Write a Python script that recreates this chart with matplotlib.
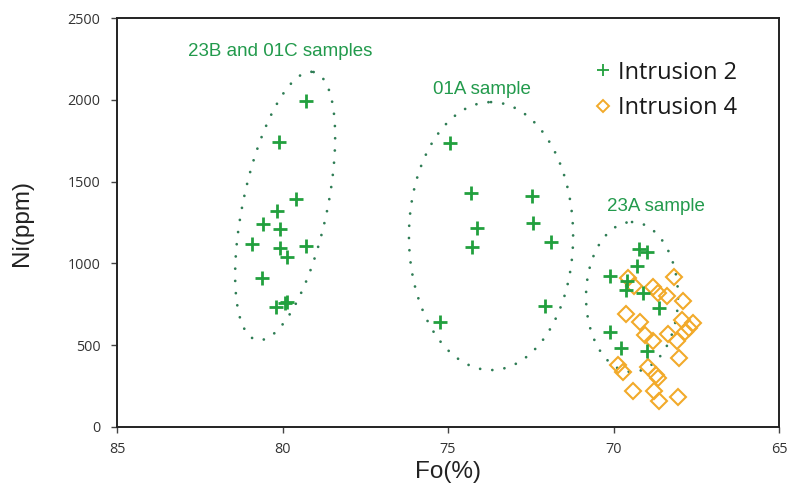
import numpy as np
import matplotlib.pyplot as plt
from matplotlib.lines import Line2D

# Olivine Fo content (%) and Ni (ppm)
intrusion2_fo = [79.29, 80.11, 79.60, 80.18, 80.60, 80.08, 80.93, 80.08, 79.87, 79.29,
                 80.63, 79.85, 79.92, 80.21,
                 74.94, 74.31, 74.11, 74.28, 72.47, 72.42, 71.90, 72.07, 75.24,
                 69.22, 68.98, 69.30, 70.11, 69.58, 69.62, 69.10, 68.63, 70.11, 69.78, 69.00]
intrusion2_ni = [1993, 1744, 1394, 1322, 1239, 1210, 1119, 1092, 1037, 1108,
                 909, 766, 760, 735,
                 1738, 1432, 1215, 1102, 1412, 1245, 1133, 741, 640,
                 1086, 1068, 986, 923, 894, 837, 817, 729, 579, 481, 466]

intrusion4_fo = [69.57, 69.37, 68.16, 68.82, 68.65, 68.39, 67.91, 69.62, 69.20, 67.94,
                 67.61, 67.71, 67.84, 68.34, 68.07, 69.05, 68.82, 68.01, 69.85, 69.70,
                 68.95, 68.72, 68.65, 69.42, 68.78, 68.62, 68.04]
intrusion4_ni = [909, 864, 915, 858, 817, 803, 772, 691, 644, 654,
                 634, 607, 579, 568, 528, 562, 528, 420, 379, 334,
                 365, 318, 298, 222, 222, 161, 182]

# sample groups: label, label position (Fo, Ni), ellipse centre, half width (Fo), half height (Ni), tilt (deg)
group_labels = ["23B and 01C samples", "01A sample", "23A sample"]
label_fo = [80.08, 73.97, 68.72]
label_ni = [2295, 2063, 1345]
ell_fo = [79.92, 73.70, 69.44]
ell_ni = [1351, 1167, 795]
ell_half_w = [1.27, 2.48, 1.39]
ell_half_h = [837, 819, 458]
ell_tilt = [12, 0, 0]

GREEN = '#22a03e'
TEXT_GREEN = '#229a4c'
DOT_GREEN = '#2f7d55'
ORANGE = '#f2aa2a'
TICK_FONT = 'Open Sans'
LABEL_FONT = 'Liberation Sans'


def dotted_ellipse(ax, cx, cy, half_w, half_h, tilt):
    # build the ellipse in pixel space so the tilt reads correctly on screen
    c = ax.transData.transform((cx, cy))
    rx = abs(ax.transData.transform((cx + half_w, cy))[0] - c[0])
    ry = abs(ax.transData.transform((cx, cy + half_h))[1] - c[1])
    a = np.radians(tilt)
    t = np.linspace(0, 2 * np.pi, 400)
    u = np.array([np.sin(a), np.cos(a)])
    v = np.array([np.cos(a), -np.sin(a)])
    pts = c + np.outer(ry * np.cos(t), u) + np.outer(rx * np.sin(t), v)
    data = ax.transData.inverted().transform(pts)
    ax.plot(data[:, 0], data[:, 1], color=DOT_GREEN, lw=2.0,
            linestyle=(0, (0.01, 4.4)), dash_capstyle='round', zorder=1)


fig = plt.figure(figsize=(7.88, 4.95), dpi=100)
ax = fig.add_axes([117 / 788, 68 / 495, 662 / 788, 409 / 495])
ax.set_xlim(85, 65)
ax.set_ylim(0, 2500)

for i in range(len(group_labels)):
    dotted_ellipse(ax, ell_fo[i], ell_ni[i], ell_half_w[i], ell_half_h[i], ell_tilt[i])
    ax.text(label_fo[i], label_ni[i], group_labels[i], color=TEXT_GREEN,
            fontsize=13.5, family=LABEL_FONT, ha='center', va='center')

ax.plot(intrusion4_fo, intrusion4_ni, linestyle='none', marker='D', markersize=7.8,
        markerfacecolor='none', markeredgecolor=ORANGE, markeredgewidth=1.5, zorder=2)
ax.plot(intrusion2_fo, intrusion2_ni, linestyle='none', marker='+', markersize=10.5,
        markeredgewidth=2, color=GREEN, zorder=3)

# legend keys are drawn smaller and thinner than the plotted points
legend_keys = [
    Line2D([], [], linestyle='none', marker='+', markersize=9, markeredgewidth=1.3,
           color=GREEN, label='Intrusion 2'),
    Line2D([], [], linestyle='none', marker='D', markersize=6, markerfacecolor='none',
           markeredgecolor=ORANGE, markeredgewidth=1.4, label='Intrusion 4'),
]
leg = ax.legend(handles=legend_keys, loc='upper right', frameon=False,
                bbox_to_anchor=(0.969, 0.948), handlelength=0.8, handletextpad=0.25,
                labelspacing=0.5, prop={'family': TICK_FONT, 'size': 17})
for txt in leg.get_texts():
    txt.set_color('#1a1a1a')

ax.set_xticks([85, 80, 75, 70, 65])
ax.set_yticks([0, 500, 1000, 1500, 2000, 2500])
ax.tick_params(direction='out', length=4, width=1, color='#444444',
               labelsize=10.4, labelcolor='#333333')
ax.tick_params(axis='y', pad=8)
ax.tick_params(axis='x', pad=7)
for lab in ax.get_xticklabels() + ax.get_yticklabels():
    lab.set_family(TICK_FONT)

for s in ax.spines.values():
    s.set_linewidth(1.4)
    s.set_color('#222222')

ax.set_xlabel('Fo(%)', fontsize=17.5, family=LABEL_FONT, color='#222222', labelpad=3)
ax.set_ylabel('Ni(ppm)', fontsize=17.5, family=LABEL_FONT, color='#222222', labelpad=25)

fig.savefig('out.png', dpi=100)
